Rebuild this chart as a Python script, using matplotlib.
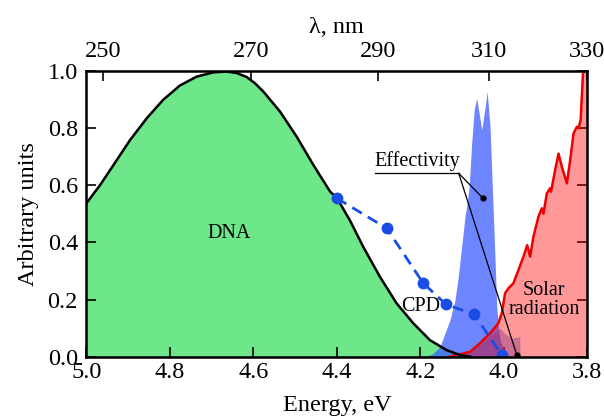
import numpy as np
import matplotlib.pyplot as plt

plt.rcParams['font.family'] = ['Liberation Serif', 'DejaVu Serif']

# DNA absorption (energy, eV / arbitrary units)
dna_e = [5.00, 4.967, 4.935, 4.895, 4.855, 4.816, 4.776, 4.736, 4.696, 4.664,
         4.640, 4.616, 4.596, 4.576, 4.536, 4.496, 4.456, 4.416, 4.40, 4.376,
         4.368, 4.337, 4.297, 4.257, 4.217, 4.177, 4.137, 4.105, 4.08]
dna_v = [0.536, 0.600, 0.670, 0.758, 0.834, 0.898, 0.948, 0.979, 0.994, 0.997,
         0.992, 0.978, 0.956, 0.927, 0.857, 0.769, 0.670, 0.577, 0.556, 0.495,
         0.475, 0.385, 0.28, 0.187, 0.117, 0.058, 0.023, 0.006, 0.0]

# CPD action spectrum points
cpd_e = [4.40, 4.2805, 4.193, 4.1385, 4.071, 4.005]
cpd_v = [0.554, 0.449, 0.257, 0.183, 0.148, 0.006]

# effectivity (blue peak)
eff_e = [4.19, 4.17, 4.153, 4.141, 4.129, 4.117, 4.109, 4.101, 4.093, 4.089,
         4.083, 4.077, 4.071, 4.065, 4.059, 4.053, 4.046, 4.040, 4.033, 4.027,
         4.021, 4.017, 4.013, 4.009, 4.00, 3.99]
eff_v = [0.0, 0.01, 0.035, 0.082, 0.128, 0.198, 0.28, 0.385, 0.49, 0.524,
         0.594, 0.746, 0.863, 0.903, 0.85, 0.793, 0.86, 0.927, 0.804, 0.571,
         0.338, 0.175, 0.105, 0.058, 0.02, 0.0]

# effectivity x solar (small purple area)
prod_e = [4.10, 4.081, 4.057, 4.033, 4.009, 3.997, 3.981, 3.967, 3.962, 3.961]
prod_v = [0.0, 0.02, 0.045, 0.07, 0.1, 0.08, 0.065, 0.068, 0.072, 0.0]

# solar radiation
sol_e = [4.13, 4.113, 4.081, 4.057, 4.033, 4.013, 4.005, 3.997, 3.989, 3.977,
         3.965, 3.953, 3.944, 3.937, 3.929, 3.917, 3.909, 3.905, 3.897, 3.889,
         3.887, 3.877, 3.869, 3.861, 3.849, 3.841, 3.833, 3.825, 3.821, 3.816,
         3.810, 3.80]
sol_v = [0.0, 0.006, 0.017, 0.047, 0.082, 0.117, 0.152, 0.222, 0.239, 0.257,
         0.303, 0.35, 0.39, 0.35, 0.42, 0.49, 0.519, 0.50, 0.571, 0.589,
         0.577, 0.653, 0.71, 0.664, 0.606, 0.688, 0.781, 0.804, 0.799, 0.828,
         1.0, 1.1]

lam_ticks = [250, 270, 290, 310, 330]


def lam_to_energy(lam):
    # top scale as drawn in the original figure
    return 0.179 + 1195.3 / np.asarray(lam, dtype=float)


fig = plt.figure(figsize=(6.04, 4.20), dpi=100)
ax = fig.add_axes([0.1429, 0.1507, 0.8295, 0.681])

ax.fill_between(dna_e, dna_v, 0, color='#6ee68a', lw=0, zorder=1)
ax.fill_between(eff_e, eff_v, 0, color='#3c5cff', alpha=0.75, lw=0, zorder=2)
ax.fill_between(sol_e, sol_v, 0, color='red', alpha=0.4, lw=0, zorder=3)
ax.fill_between(prod_e, prod_v, 0, color='#8b3a8b', alpha=0.45, lw=0, zorder=4)
ax.plot(sol_e, sol_v, color='#ee0000', lw=1.8, zorder=5)
ax.plot(dna_e, dna_v, color='black', lw=1.8, zorder=5)
ax.plot(cpd_e, cpd_v, color='#1a4de8', lw=2, ls=(0, (4, 2.5)), marker='o',
        ms=7.5, zorder=6)

# labels
ax.text(4.657, 0.431, 'DNA', fontsize=14.5, ha='center', va='center', zorder=7)
ax.text(4.20, 0.175, 'CPD', fontsize=14.5, ha='center', va='center', zorder=7)
ax.text(3.904, 0.198, 'Solar\nradiation', fontsize=14.5, ha='center',
        va='center', linespacing=1.0, zorder=7)
ax.text(4.208, 0.648, 'Effectivity', fontsize=14.5, ha='center', va='bottom',
        zorder=7)
ax.plot([4.308, 4.107], [0.641, 0.641], color='black', lw=0.9, zorder=7)
ax.plot([4.108, 4.051], [0.641, 0.556], color='black', lw=0.9, zorder=7)
ax.plot([4.108, 3.969], [0.641, 0.006], color='black', lw=0.9, zorder=7)
ax.plot([4.051, 3.969], [0.556, 0.006], 'o', color='black', ms=3.5, zorder=7)

ax.set_xlim(5.0, 3.8)
ax.set_ylim(0, 1.0)
ax.set_xticks(np.arange(5.0, 3.79, -0.2))
ax.set_xticklabels(['5.0', '4.8', '4.6', '4.4', '4.2', '4.0', '3.8'])
ax.set_yticks(np.arange(0, 1.01, 0.2))
ax.set_yticklabels(['0.0', '0.2', '0.4', '0.6', '0.8', '1.0'])
ax.tick_params(direction='in', length=7, width=1.2, labelsize=17.5,
               right=True, top=False)
ax.tick_params(axis='x', pad=3.5)
ax.tick_params(axis='y', pad=6)
ax.set_xlabel('Energy, eV', fontsize=17.5, labelpad=9)
ax.set_ylabel('Arbitrary units', fontsize=17.5, labelpad=6)
for sp in ax.spines.values():
    sp.set_linewidth(1.8)
    sp.set_zorder(10)

ax2 = ax.twiny()
ax2.set_xlim(ax.get_xlim())
ax2.set_xticks(lam_to_energy(lam_ticks))
ax2.set_xticklabels([str(v) for v in lam_ticks])
ax2.tick_params(direction='in', length=7, width=1.2, labelsize=17.5, pad=6)
ax2.set_xlabel('λ, nm', fontsize=17.5, labelpad=6)

fig.savefig('out.png', dpi=100)
